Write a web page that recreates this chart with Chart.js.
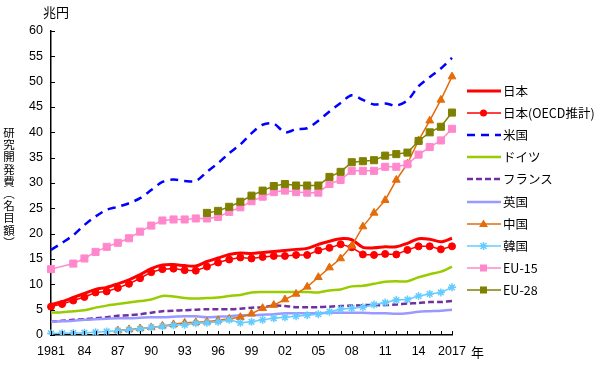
<!DOCTYPE html>
<html><head><meta charset="utf-8">
<script src="https://cdn.jsdelivr.net/npm/chart.js@4/dist/chart.umd.min.js"></script>
<style>
html,body{margin:0;padding:0;background:#fff;}
#wrap{position:relative;width:600px;height:369px;overflow:hidden;}
canvas{position:absolute;left:0;top:0;}
.t{position:absolute;font-family:"Noto Sans CJK JP","Liberation Sans",sans-serif;font-size:13px;color:#000;line-height:1;white-space:nowrap;}
#ytitle{left:2px;top:126px;width:14px;font-size:11.5px;line-height:12.2px;text-align:center;white-space:normal;}
.lg{position:absolute;left:466px;height:14px;}
.lg svg{position:absolute;left:0;top:0;}
.lg span{position:absolute;left:37px;top:-1px;font-family:"Noto Sans CJK JP","Liberation Sans",sans-serif;font-size:12.5px;line-height:16px;white-space:nowrap;}
</style></head><body>
<div id="wrap">
<canvas id="c" width="600" height="369"></canvas>
<div class="t" style="left:43px;top:5px;">兆円</div>
<div class="t" id="ytitle">研<br>究<br>開<br>発<br>費<br>︵<br>名<br>目<br>額<br>︶</div>
<div class="t" style="left:471px;top:345px;">年</div>
<div id="legend"></div>
</div>
<script>
const years = [1981,1982,1983,1984,1985,1986,1987,1988,1989,1990,1991,1992,1993,1994,1995,1996,1997,1998,1999,2000,2001,2002,2003,2004,2005,2006,2007,2008,2009,2010,2011,2012,2013,2014,2015,2016,2017];
const seriesNames = ["日本","日本(OECD推計)","米国","ドイツ","フランス","英国","中国","韓国","EU-15","EU-28"];
const japan = [6.0,6.6,7.4,8.2,9.0,9.4,10.1,10.9,11.9,13.1,13.8,13.9,13.7,13.6,14.5,15.2,15.9,16.2,16.1,16.3,16.5,16.7,16.9,17.1,17.9,18.5,19.0,18.8,17.3,17.2,17.4,17.4,18.1,19.0,18.9,18.4,19.1];
const japanOECD = [5.6,6.1,6.8,7.5,8.4,8.6,9.3,10.1,11.2,12.4,13.0,13.1,12.8,12.7,13.5,14.3,14.9,15.3,15.1,15.4,15.6,15.6,15.8,15.8,16.7,17.2,17.9,17.3,15.9,15.8,16.0,15.9,16.8,17.5,17.5,16.9,17.5];
const us = [16.8,18.2,19.7,21.7,23.4,24.7,25.3,26.0,27.0,28.6,30.2,30.7,30.4,30.4,32.2,33.9,35.9,37.6,39.8,41.5,41.7,40.0,40.6,40.8,42.3,44.1,45.8,47.3,46.4,45.5,45.7,45.3,46.3,49.1,50.9,52.6,54.7];
const germany = [4.4,4.5,4.7,4.9,5.4,5.8,6.1,6.4,6.7,7.0,7.7,7.6,7.3,7.2,7.3,7.4,7.7,7.9,8.4,8.5,8.5,8.5,8.5,8.5,8.4,8.8,9.0,9.6,9.7,10.1,10.5,10.6,10.6,11.4,12.0,12.5,13.5];
const france = [2.6,2.8,3.0,3.1,3.3,3.5,3.8,3.9,4.1,4.4,4.7,4.8,4.9,5.0,5.1,5.1,5.1,5.2,5.4,5.5,5.8,5.7,5.5,5.5,5.5,5.6,5.7,5.8,5.9,5.9,5.9,6.0,6.2,6.3,6.5,6.5,6.7];
const uk = [2.6,2.7,2.8,3.0,3.1,3.2,3.3,3.3,3.4,3.5,3.5,3.6,3.7,3.7,3.5,3.6,3.7,3.9,3.9,4.0,4.1,4.3,4.3,4.3,4.3,4.4,4.4,4.4,4.4,4.3,4.3,4.2,4.3,4.6,4.7,4.8,5.0];
const china = [null,null,null,null,null,null,0.9,1.1,1.3,1.5,1.8,2.1,2.4,2.5,2.6,2.9,3.2,3.5,4.2,5.3,5.9,7.0,8.1,9.5,11.4,13.3,15.1,17.6,21.4,24.1,26.6,30.6,33.8,38.4,42.3,46.4,51.0];
const korea = [0.3,0.35,0.4,0.45,0.55,0.7,0.85,1.0,1.2,1.5,1.7,1.9,2.0,2.3,2.4,2.6,3.0,2.4,2.6,3.0,3.3,3.5,3.7,3.9,4.1,4.6,5.1,5.3,5.5,6.0,6.4,6.9,7.0,7.7,8.1,8.4,9.4];
const eu15 = [13.0,null,14.1,15.1,16.4,17.4,18.2,19.1,20.4,21.6,22.6,22.8,22.8,23.0,23.0,23.3,24.3,25.2,26.4,27.3,28.2,28.5,28.2,28.1,28.1,29.8,30.6,32.4,32.4,32.4,33.2,33.2,33.7,35.6,37.1,38.4,40.7];
const eu28 = [null,null,null,null,null,null,null,null,null,null,null,null,null,null,24.1,24.5,25.3,26.3,27.5,28.5,29.4,29.8,29.5,29.5,29.5,31.2,32.2,34.1,34.3,34.5,35.4,35.7,36.0,38.3,40.0,41.1,43.9];

const styles = [
  {data:japan,color:'#ff0000',w:3,dash:[],pt:false,r:0,tension:0.3},
  {data:japanOECD,color:'#ff0000',w:1.5,dash:[],pt:'circle',r:3.5,fill:'#ff0000',tension:0},
  {data:us,color:'#0000ff',w:2.5,dash:[8,6],pt:false,r:0,tension:0.3},
  {data:germany,color:'#99cc00',w:2.5,dash:[],pt:false,r:0,tension:0.3},
  {data:france,color:'#7030a0',w:2.5,dash:[6,3],pt:false,r:0,tension:0.3},
  {data:uk,color:'#9999ff',w:2.5,dash:[],pt:false,r:0,tension:0.3},
  {data:china,color:'#e46c0a',w:1.5,dash:[],pt:'triangle',r:4.5,fill:'#e46c0a',tension:0},
  {data:korea,color:'#66ccff',w:1.5,dash:[],pt:'star',r:4,fill:'#66ccff',tension:0},
  {data:eu15,color:'#ff88cc',w:1.5,dash:[],pt:'rect',r:5,fill:'#ff88cc',tension:0},
  {data:eu28,color:'#808000',w:1.5,dash:[],pt:'rect',r:5,fill:'#808000',tension:0}
];

const datasets = styles.map((s,i)=>({
  label: seriesNames[i],
  data: s.data,
  borderColor: s.color,
  backgroundColor: s.fill||s.color,
  borderWidth: s.w,
  borderDash: s.dash,
  pointStyle: s.pt||'circle',
  pointRadius: s.r,
  pointBorderWidth: s.pt==='star'?1.5:1,
  pointBorderColor: s.color,
  pointBackgroundColor: s.fill||s.color,
  tension: s.tension,
  spanGaps: true,
  order: 10-i
}));

const inTicks = {
  id:'inTicks',
  afterDraw(chart){
    const {ctx, scales:{x,y}, chartArea:a} = chart;
    ctx.save(); ctx.strokeStyle='#000'; ctx.lineWidth=1; ctx.beginPath();
    for(let i=0;i<years.length;i++){const px=Math.round(x.getPixelForValue(i))+0.5; ctx.moveTo(px,a.bottom); ctx.lineTo(px,a.bottom-4);}
    for(let v=0;v<=60;v+=5){const py=Math.round(y.getPixelForValue(v))+0.5; ctx.moveTo(a.left,py); ctx.lineTo(a.left+4,py);}
    ctx.stroke(); ctx.restore();
  }
};

new Chart(document.getElementById('c'), {
  type:'line',
  data:{labels:years, datasets},
  plugins:[inTicks],
  options:{
    responsive:false, animation:false, devicePixelRatio:1,
    layout:{padding:{left:0,right:148,top:31,bottom:0}},
    plugins:{legend:{display:false}, tooltip:{enabled:false}},
    scales:{
      x:{
        type:'category', offset:false,
        grid:{display:false, drawTicks:false},
        border:{display:true,color:'#000',width:1.5},
        ticks:{autoSkip:false,maxRotation:0,padding:9,color:'#000',font:{family:'"Liberation Sans", Arial, sans-serif',size:12.5},
          callback:(v,i)=>{ if(i%3!==0) return ''; const yr=years[i]; return (i===0||i===years.length-1)?String(yr):String(yr).slice(2);} },
        afterFit:(s)=>{s.height=34;}
      },
      y:{
        min:0,max:60,
        grid:{display:false, drawTicks:false},
        border:{display:true,color:'#000',width:1.5},
        ticks:{stepSize:5,padding:8,color:'#000',font:{family:'"Liberation Sans", Arial, sans-serif',size:12.5}},
        afterFit:(s)=>{s.width=51;}
      }
    }
  }
});

// legend
const lg = document.getElementById('legend');
styles.forEach((s,i)=>{
  const top = 84 + i*22.1;
  let mk = '';
  const cx=17.5, cy=7;
  if(s.pt==='circle') mk=`<circle cx="${cx}" cy="${cy}" r="3.5" fill="${s.color}"/>`;
  else if(s.pt==='triangle') mk=`<polygon points="${cx},${cy-4.5} ${cx+4.5},${cy+3} ${cx-4.5},${cy+3}" fill="${s.color}"/>`;
  else if(s.pt==='rect') mk=`<rect x="${cx-3.5}" y="${cy-3.5}" width="7" height="7" fill="${s.color}"/>`;
  else if(s.pt==='star') mk=`<path d="M${cx-4} ${cy}H${cx+4}M${cx} ${cy-4}V${cy+4}M${cx-3} ${cy-3}L${cx+3} ${cy+3}M${cx-3} ${cy+3}L${cx+3} ${cy-3}" stroke="${s.color}" stroke-width="1.5"/>`;
  const dash = s.dash.length? `stroke-dasharray="${s.dash.join(',')}"`:'';
  const d = document.createElement('div');
  d.className='lg'; d.style.top=top+'px';
  d.innerHTML = `<svg width="36" height="14"><line x1="1" y1="${cy}" x2="35" y2="${cy}" stroke="${s.color}" stroke-width="${s.w}" ${dash}/>${mk}</svg><span>${seriesNames[i]}</span>`;
  lg.appendChild(d);
});
</script>
</body></html>
